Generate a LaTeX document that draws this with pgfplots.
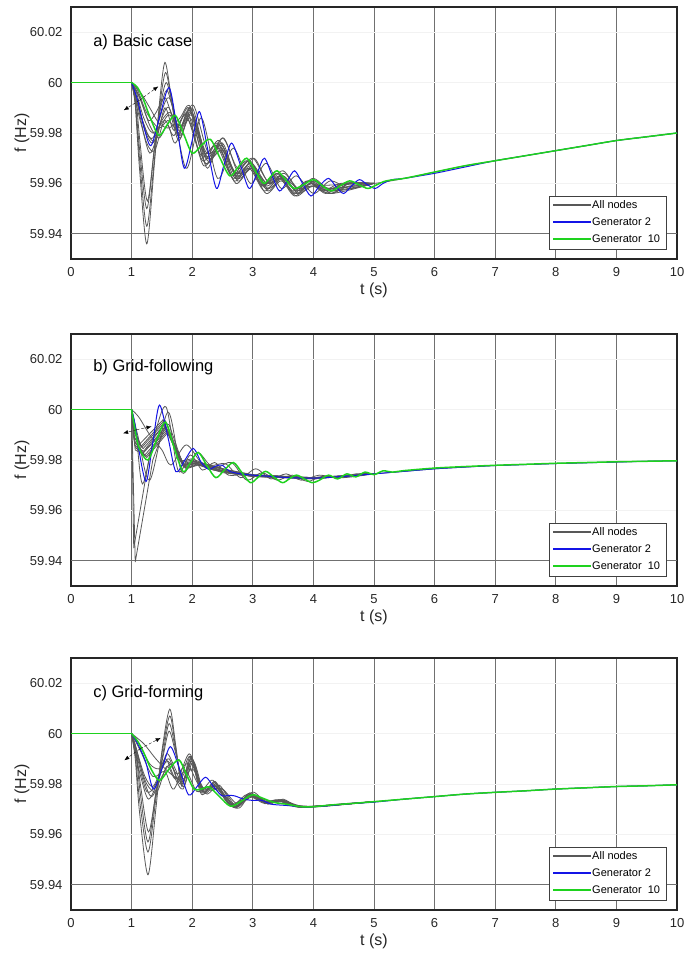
\documentclass[border=0pt]{standalone}
\usepackage{fontspec}
\setmainfont{Liberation Sans}
\usepackage{pgfplots}
\pgfplotsset{compat=1.18}
\usetikzlibrary{arrows.meta}
\definecolor{nodegray}{HTML}{585858}
\definecolor{genblue}{HTML}{1414E6}
\definecolor{gengreen}{HTML}{1ED21E}
\definecolor{gridgray}{HTML}{707070}

\pgfplotsset{
  panel/.style={
    scale only axis, width=606pt, height=252pt,
    xmin=0, xmax=10, ymin=59.93, ymax=60.03,
    xtick={0,1,2,3,4,5,6,7,8,9,10}, xticklabels={0,1,2,3,4,5,6,7,8,9,10},
    ytick={59.94,59.96,59.98,60,60.02}, yticklabels={59.94,59.96,59.98,60,60.02},
    major tick length=0pt,
    xmajorgrids, ymajorgrids,
    x grid style={gridgray, line width=0.9pt},
    y grid style={black!5, line width=0.8pt},
    axis line style={black!85, line width=1.2pt},
    tick label style={font=\fontsize{13}{15}\selectfont, text=black!85},
    xticklabel style={yshift=-5pt},
    yticklabel style={xshift=-5pt},
    label style={font=\fontsize{16}{18}\selectfont, text=black!85},
    xlabel={t (s)}, ylabel={f (Hz)},
    x label style={at={(axis description cs:0.5,-0.123)}, anchor=center},
    y label style={at={(axis description cs:-0.081,0.5)}, anchor=center},
  },
  allnodes/.style={nodegray, line width=0.8pt, smooth},
  allsharp/.style={nodegray, line width=0.8pt},
  gentwo/.style={genblue, line width=1pt, smooth},
  genten/.style={gengreen, line width=1.5pt, smooth},
}

% legend box in the lower right corner of each panel
\newcommand{\panellegend}{%
  \draw[black!75, line width=0.8pt, fill=white] (rel axis cs:0.7888,0.0377) rectangle (rel axis cs:0.9818,0.25);
  \draw[nodegray, line width=1.3pt] (rel axis cs:0.7954,0.2147) -- (rel axis cs:0.8576,0.2147);
  \draw[genblue, line width=2pt] (rel axis cs:0.7954,0.1478) -- (rel axis cs:0.8576,0.1478);
  \draw[gengreen, line width=2pt] (rel axis cs:0.7954,0.0790) -- (rel axis cs:0.8576,0.0790);
  \node[anchor=west, inner sep=0pt, font=\fontsize{11}{13}\selectfont] at (rel axis cs:0.8598,0.2147) {All nodes};
  \node[anchor=west, inner sep=0pt, font=\fontsize{11}{13}\selectfont] at (rel axis cs:0.8598,0.1478) {Generator 2};
  \node[anchor=west, inner sep=0pt, font=\fontsize{11}{13}\selectfont] at (rel axis cs:0.8598,0.0790) {Generator\ \ 10};
}

\begin{document}
\begin{tikzpicture}
\path[use as bounding box] (0pt,0pt) rectangle (699pt,-953pt);

% ---------------- a) Basic case
\begin{axis}[panel, at={(71pt,-7pt)}, anchor=north west]
\addplot[gridgray, line width=0.9pt] coordinates {(0,59.94)(10,59.94)};
\addplot[allnodes] coordinates {(1,60)(1.06,59.991)(1.13,59.966)(1.25,59.936)(1.37,59.966)(1.46,59.992)(1.55,60.008)(1.65,59.995)(1.76,59.979)(1.96,59.989)(2.21,59.968)(2.46,59.975)(2.71,59.962)(2.96,59.968)(3.21,59.958)(3.46,59.962)(3.71,59.956)(3.96,59.960)(4.21,59.957)(4.5,59.960)(5,59.960)(5.5,59.962)(6,59.9645)(6.5,59.967)(7,59.969)(7.5,59.971)(8,59.973)(8.5,59.975)(9,59.977)(9.5,59.9785)(10,59.980)};
\addplot[allnodes] coordinates {(1,60)(1.06,59.992)(1.13,59.970)(1.25,59.943)(1.37,59.968)(1.46,59.990)(1.56,60.004)(1.66,59.993)(1.77,59.980)(1.97,59.990)(2.22,59.970)(2.47,59.976)(2.72,59.963)(2.97,59.967)(3.22,59.959)(3.47,59.963)(3.72,59.957)(3.97,59.960)(4.25,59.957)(4.55,59.960)(5,59.960)};
\addplot[allnodes] coordinates {(1,60)(1.06,59.993)(1.13,59.974)(1.25,59.950)(1.37,59.972)(1.47,59.990)(1.57,60.000)(1.67,59.992)(1.78,59.981)(1.98,59.988)(2.23,59.971)(2.48,59.974)(2.73,59.964)(2.98,59.968)(3.23,59.960)(3.48,59.962)(3.73,59.957)(3.98,59.960)(4.3,59.958)(5,59.960)};
\addplot[allnodes] coordinates {(1,60)(1.07,59.994)(1.14,59.976)(1.26,59.953)(1.38,59.975)(1.48,59.990)(1.58,59.997)(1.68,59.990)(1.79,59.982)(1.99,59.987)(2.24,59.972)(2.49,59.975)(2.74,59.963)(2.99,59.966)(3.24,59.960)(3.49,59.963)(3.74,59.958)(3.99,59.959)(5,59.960)};
\addplot[allnodes] coordinates {(1,60)(1.1,59.991)(1.3,59.972)(1.5,59.986)(1.62,59.990)(1.8,59.978)(2,59.990)(2.25,59.969)(2.5,59.976)(2.75,59.961)(3,59.967)(3.25,59.957)(3.5,59.963)(3.75,59.956)(4,59.961)(4.3,59.956)(4.6,59.960)(5,59.960)};
\addplot[allnodes] coordinates {(1,60)(1.15,59.996)(1.3,59.990)(1.45,59.984)(1.62,59.982)(1.8,59.986)(1.95,59.991)(2.1,59.980)(2.25,59.966)(2.5,59.978)(2.75,59.966)(3,59.970)(3.25,59.961)(3.5,59.965)(3.75,59.958)(4,59.962)(4.3,59.957)(4.6,59.960)(5,59.960)};
\addplot[allnodes] coordinates {(1,60)(1.18,59.985)(1.35,59.978)(1.62,59.994)(1.9,59.966)(2.15,59.986)(2.42,59.962)(2.68,59.974)(2.96,59.960)(3.22,59.968)(3.47,59.958)(3.72,59.963)(4,59.956)(4.28,59.961)(4.6,59.958)(5,59.960)};
\addplot[allnodes] coordinates {(1,60)(1.12,59.990)(1.25,59.980)(1.4,59.977)(1.55,59.990)(1.7,59.981)(1.9,59.987)(2.15,59.971)(2.4,59.975)(2.65,59.963)(2.9,59.969)(3.15,59.959)(3.4,59.964)(3.65,59.957)(3.9,59.961)(4.15,59.957)(4.45,59.960)(5,59.960)};
\addplot[allnodes] coordinates {(1,60)(1.1,59.997)(1.25,59.988)(1.45,59.982)(1.6,59.985)(1.75,59.982)(1.95,59.990)(2.2,59.972)(2.45,59.977)(2.7,59.964)(2.95,59.969)(3.2,59.960)(3.45,59.963)(3.7,59.958)(3.95,59.961)(4.25,59.958)(5,59.960)};
\addplot[allnodes] coordinates {(1,60)(1.1,59.993)(1.22,59.981)(1.35,59.976)(1.5,59.985)(1.65,59.988)(1.8,59.979)(2,59.988)(2.25,59.970)(2.5,59.973)(2.75,59.962)(3,59.966)(3.25,59.958)(3.5,59.962)(3.75,59.956)(4,59.959)(4.3,59.957)(5,59.960)};
\addplot[allnodes] coordinates {(1,60)(1.08,59.996)(1.2,59.986)(1.35,59.980)(1.55,59.985)(1.7,59.979)(1.92,59.988)(2.17,59.969)(2.42,59.976)(2.67,59.962)(2.92,59.969)(3.17,59.959)(3.42,59.964)(3.67,59.956)(3.92,59.961)(4.2,59.956)(4.5,59.960)(5,59.960)};
\addplot[allnodes] coordinates {(1,60)(1.12,59.995)(1.3,59.983)(1.45,59.978)(1.6,59.983)(1.72,59.976)(1.94,59.985)(2.19,59.967)(2.44,59.974)(2.69,59.961)(2.94,59.966)(3.19,59.957)(3.44,59.962)(3.69,59.955)(3.94,59.960)(4.25,59.956)(4.6,59.959)(5,59.960)};
\addplot[allnodes] coordinates {(1,60)(1.15,59.993)(1.28,59.985)(1.4,59.988)(1.55,59.994)(1.68,59.986)(1.82,59.983)(2.02,59.991)(2.27,59.972)(2.52,59.978)(2.77,59.964)(3.02,59.970)(3.27,59.960)(3.52,59.964)(3.77,59.957)(4.02,59.961)(4.35,59.957)(5,59.960)};
\addplot[allnodes] coordinates {(1,60)(1.1,59.989)(1.25,59.976)(1.38,59.973)(1.52,59.984)(1.64,59.987)(1.78,59.977)(1.97,59.986)(2.22,59.968)(2.47,59.973)(2.72,59.960)(2.97,59.966)(3.22,59.956)(3.47,59.961)(3.72,59.955)(3.97,59.959)(4.3,59.956)(5,59.960)};
\addplot[gentwo] coordinates {(1,60)(1.1,59.993)(1.2,59.9826)(1.32,59.975)(1.47,59.987)(1.62,59.998)(1.75,59.982)(1.87,59.966)(2,59.977)(2.12,59.9885)(2.26,59.973)(2.4,59.958)(2.52,59.967)(2.65,59.976)(2.8,59.967)(2.94,59.958)(3.07,59.964)(3.19,59.970)(3.32,59.963)(3.44,59.957)(3.57,59.961)(3.69,59.965)(3.82,59.960)(3.96,59.955)(4.1,59.959)(4.25,59.962)(4.38,59.9585)(4.5,59.956)(4.63,59.959)(4.76,59.9615)(4.89,59.9595)(5.02,59.958)(5.15,59.960)(5.3,59.9615)(5.5,59.962)(6,59.964)(6.5,59.9665)(7,59.969)(7.5,59.971)(8,59.973)(8.5,59.975)(9,59.977)(9.5,59.9785)(10,59.980)};
\addplot[genten] coordinates {(1,60)(1.1,59.998)(1.2,59.993)(1.3,59.9865)(1.45,59.979)(1.58,59.983)(1.72,59.987)(1.86,59.9795)(2,59.972)(2.15,59.975)(2.3,59.9775)(2.46,59.970)(2.62,59.963)(2.76,59.9665)(2.9,59.970)(3.04,59.965)(3.18,59.960)(3.29,59.9625)(3.4,59.965)(3.54,59.9615)(3.68,59.958)(3.84,59.9595)(4,59.9615)(4.15,59.959)(4.3,59.957)(4.45,59.9592)(4.6,59.961)(4.75,59.9595)(4.9,59.958)(5.05,59.9595)(5.2,59.961)(5.5,59.962)(6,59.9645)(6.5,59.967)(7,59.969)(7.5,59.971)(8,59.973)(8.5,59.975)(9,59.977)(9.5,59.9785)(10,59.980)};
\addplot[gengreen, line width=1.5pt] coordinates {(0,60)(1,60)};
\panellegend
\draw[densely dashed, black, -{Latex[length=5pt,width=4pt]}] (axis cs:1.13,59.993) -- (axis cs:1.44,59.9985);
\draw[densely dashed, black, -{Latex[length=5pt,width=4pt]}] (axis cs:1.13,59.993) -- (axis cs:0.87,59.989);
\node[anchor=west, font=\fontsize{16.5}{18}\selectfont] at (rel axis cs:0.031,0.861) {a) Basic case};
\end{axis}

% ---------------- b) Grid-following
\begin{axis}[panel, at={(71pt,-334pt)}, anchor=north west]
\addplot[gridgray, line width=0.9pt] coordinates {(0,59.94)(10,59.94)};
\addplot[allsharp] coordinates {(1,60)(1.03,59.990)(1.15,59.984)(1.2,59.9835)(1.55,59.9945)(1.62,59.994)(1.85,59.978)(2,59.979)(2.15,59.978)(2.3,59.9765)(2.5,59.9755)(2.7,59.9745)(3,59.974)(3.5,59.9732)(4,59.9728)(4.5,59.9735)(5,59.9745)(5.5,59.9755)(6,59.9765)(6.5,59.9772)(7,59.9778)(7.5,59.9782)(8,59.9786)(8.5,59.9789)(9,59.9792)(9.5,59.9795)(10,59.9797)};
\addplot[allsharp] coordinates {(1,60)(1.04,59.988)(1.18,59.9825)(1.55,59.993)(1.85,59.9775)(2.05,59.979)(2.2,59.9775)(2.4,59.9765)(2.6,59.975)(3,59.9737)(4,59.9727)(5,59.9745)};
\addplot[allsharp] coordinates {(1,60)(1.05,59.986)(1.22,59.982)(1.58,59.992)(1.88,59.977)(2.1,59.9785)(2.3,59.977)(2.5,59.9755)(2.8,59.974)(3.3,59.9735)(4,59.9725)(5,59.9745)};
\addplot[allsharp] coordinates {(1,60)(1.03,59.992)(1.16,59.9855)(1.53,59.9955)(1.82,59.979)(2,59.980)(2.2,59.978)(2.4,59.9775)(2.6,59.9755)(3,59.974)(4,59.973)(5,59.9745)};
\addplot[allsharp] coordinates {(1,60)(1.06,59.985)(1.25,59.981)(1.6,59.991)(1.9,59.9765)(2.1,59.978)(2.35,59.976)(2.6,59.975)(3,59.9735)(4,59.9725)(5,59.9745)};
\addplot[allsharp] coordinates {(1,60)(1.04,59.991)(1.17,59.985)(1.56,59.9955)(1.84,59.9785)(2,59.9795)(2.2,59.9785)(2.4,59.977)(2.6,59.976)(3,59.974)(4,59.973)(5,59.9745)};
\addplot[allsharp] coordinates {(1,60)(1.05,59.987)(1.2,59.983)(1.57,59.9925)(1.87,59.9772)(2.05,59.9788)(2.25,59.977)(2.45,59.976)(2.7,59.9745)(3,59.9738)(4,59.9727)(5,59.9745)};
\addplot[allsharp] coordinates {(1,60)(1.04,59.989)(1.19,59.9845)(1.54,59.994)(1.86,59.9782)(2.05,59.9795)(2.25,59.978)(2.4,59.977)(2.6,59.9755)(3,59.974)(4,59.9729)(5,59.9745)};
\addplot[allsharp] coordinates {(1,60)(1.06,59.984)(1.24,59.9815)(1.59,59.9915)(1.89,59.9768)(2.1,59.9782)(2.3,59.9765)(2.5,59.975)(3,59.9735)(4,59.9726)(5,59.9745)};
\addplot[allsharp] coordinates {(1,60)(1.03,59.993)(1.14,59.9865)(1.52,59.996)(1.8,59.9795)(2,59.9805)(2.15,59.979)(2.35,59.9775)(2.6,59.976)(3,59.9742)(4,59.973)(5,59.9745)};
\addplot[allsharp] coordinates {(1,60)(1.06,59.9395)(1.35,59.980)(1.55,59.993)(1.85,59.978)(2.1,59.9785)(2.5,59.9755)(3,59.974)(4,59.9728)(5,59.9745)};
\addplot[allsharp] coordinates {(1,60)(1.035,59.945)(1.3,59.9825)(1.55,59.9935)(1.85,59.9778)(2.1,59.979)(2.5,59.9758)(3,59.974)(4,59.9728)(5,59.9745)};
\addplot[allnodes] coordinates {(1,60)(1.07,59.992)(1.18,59.9705)(1.38,59.990)(1.57,60.001)(1.77,59.9757)(1.97,59.982)(2.17,59.976)(2.37,59.979)(2.6,59.974)(2.85,59.9745)(3,59.9735)(4,59.9728)(5,59.9745)};
\addplot[allnodes] coordinates {(1,60)(1.1,59.990)(1.3,59.972)(1.6,59.999)(1.83,59.975)(2.08,59.983)(2.3,59.978)(2.55,59.9785)(2.8,59.973)(3.05,59.9765)(3.3,59.9725)(3.55,59.9745)(3.8,59.972)(4.1,59.974)(4.4,59.9728)(4.7,59.9745)(5,59.9745)};
\addplot[allnodes] coordinates {(1,60)(1.12,59.997)(1.3,59.990)(1.5,59.984)(1.65,59.978)(1.9,59.986)(2.15,59.979)(2.4,59.977)(2.65,59.979)(2.9,59.972)(3.15,59.975)(3.4,59.972)(3.65,59.974)(3.9,59.9715)(4.15,59.9735)(4.5,59.973)(5,59.9745)};
\addplot[gentwo] coordinates {(1,60)(1.05,59.995)(1.12,59.984)(1.24,59.9715)(1.35,59.987)(1.46,60.0018)(1.6,59.989)(1.73,59.9754)(1.88,59.980)(2.02,59.9846)(2.15,59.979)(2.27,59.9763)(2.38,59.9775)(2.49,59.978)(2.62,59.9755)(2.8,59.9745)(3,59.974)(3.3,59.9735)(3.6,59.973)(4,59.9728)(4.5,59.9735)(5,59.9745)(5.5,59.9755)(6,59.9765)(6.5,59.9772)(7,59.9778)(7.5,59.9782)(8,59.9786)(8.5,59.9789)(9,59.9792)(9.5,59.9795)(10,59.9797)};
\addplot[genten] coordinates {(1,60)(1.05,59.993)(1.12,59.985)(1.27,59.980)(1.42,59.9885)(1.56,59.995)(1.7,59.985)(1.85,59.9754)(1.97,59.979)(2.1,59.983)(2.25,59.9775)(2.39,59.973)(2.53,59.976)(2.68,59.979)(2.82,59.975)(2.96,59.971)(3.08,59.973)(3.21,59.9755)(3.35,59.9732)(3.49,59.971)(3.6,59.9725)(3.72,59.974)(3.85,59.9725)(3.98,59.971)(4.1,59.972)(4.25,59.974)(4.4,59.9725)(4.55,59.9745)(4.7,59.9733)(4.85,59.9752)(5,59.9742)(5.15,59.9757)(5.3,59.9752)(5.5,59.9758)(6,59.9768)(6.5,59.9774)(7,59.9779)(7.5,59.9783)(8,59.9787)(8.5,59.979)(9,59.9793)(9.5,59.9795)(10,59.9797)};
\addplot[gengreen, line width=1.5pt] coordinates {(0,60)(1,60)};
\panellegend
\draw[densely dashed, black, -{Latex[length=5pt,width=4pt]}] (axis cs:1.08,59.992) -- (axis cs:1.33,59.9933);
\draw[densely dashed, black, -{Latex[length=5pt,width=4pt]}] (axis cs:1.08,59.992) -- (axis cs:0.86,59.9906);
\node[anchor=west, font=\fontsize{16.5}{18}\selectfont] at (rel axis cs:0.031,0.868) {b) Grid-following};
\end{axis}

% ---------------- c) Grid-forming
\begin{axis}[panel, at={(71pt,-658pt)}, anchor=north west]
\addplot[gridgray, line width=0.9pt] coordinates {(0,59.94)(10,59.94)};
\addplot[allnodes] coordinates {(1,60)(1.06,59.990)(1.13,59.969)(1.27,59.944)(1.4,59.970)(1.5,59.993)(1.63,60.0097)(1.73,59.995)(1.83,59.979)(1.97,59.991)(2.15,59.976)(2.35,59.980)(2.55,59.974)(2.72,59.9705)(2.95,59.9765)(3.2,59.9725)(3.45,59.9733)(3.7,59.971)(4,59.971)(4.5,59.9722)(5,59.973)(5.5,59.974)(6,59.975)(6.5,59.976)(7,59.9767)(7.5,59.9773)(8,59.978)(8.5,59.9785)(9,59.979)(9.5,59.9793)(10,59.9797)};
\addplot[allnodes] coordinates {(1,60)(1.06,59.992)(1.13,59.974)(1.27,59.953)(1.4,59.974)(1.5,59.992)(1.63,60.007)(1.73,59.994)(1.84,59.980)(1.98,59.990)(2.16,59.9765)(2.36,59.9795)(2.56,59.9735)(2.73,59.971)(2.96,59.976)(3.22,59.9725)(3.47,59.9735)(3.72,59.9712)(4.05,59.971)(5,59.973)};
\addplot[allnodes] coordinates {(1,60)(1.07,59.993)(1.14,59.977)(1.27,59.957)(1.4,59.976)(1.51,59.991)(1.62,60.004)(1.73,59.993)(1.84,59.981)(1.99,59.9905)(2.17,59.977)(2.37,59.9805)(2.57,59.974)(2.74,59.9708)(2.97,59.9758)(3.23,59.9728)(3.48,59.9738)(3.73,59.9713)(4.1,59.971)(5,59.973)};
\addplot[allnodes] coordinates {(1,60)(1.07,59.994)(1.15,59.979)(1.28,59.961)(1.41,59.978)(1.52,59.991)(1.62,60.001)(1.73,59.992)(1.85,59.982)(2,59.989)(2.18,59.9775)(2.38,59.9805)(2.58,59.9742)(2.75,59.971)(2.98,59.9755)(3.24,59.973)(3.5,59.9735)(3.75,59.9712)(4.1,59.9712)(5,59.973)};
\addplot[allnodes] coordinates {(1,60)(1.1,59.990)(1.25,59.977)(1.4,59.980)(1.55,59.990)(1.7,59.983)(1.85,59.978)(2,59.990)(2.18,59.977)(2.38,59.981)(2.6,59.972)(2.8,59.9735)(3,59.976)(3.25,59.9725)(3.5,59.9735)(3.8,59.9712)(4.2,59.9715)(5,59.973)};
\addplot[allnodes] coordinates {(1,60)(1.2,59.996)(1.4,59.990)(1.6,59.985)(1.8,59.982)(1.98,59.988)(2.15,59.979)(2.3,59.978)(2.5,59.978)(2.75,59.972)(3,59.975)(3.3,59.973)(3.6,59.972)(4,59.9712)(5,59.973)};
\addplot[allnodes] coordinates {(1,60)(1.15,59.993)(1.35,59.983)(1.55,59.985)(1.7,59.978)(1.95,59.992)(2.12,59.980)(2.25,59.976)(2.45,59.9795)(2.7,59.971)(2.95,59.9755)(3.2,59.9725)(3.45,59.9732)(3.75,59.971)(4.2,59.9715)(5,59.973)};
\addplot[allnodes] coordinates {(1,60)(1.08,59.994)(1.2,59.982)(1.33,59.975)(1.5,59.983)(1.65,59.988)(1.8,59.980)(2,59.986)(2.2,59.978)(2.4,59.979)(2.65,59.9715)(2.9,59.9758)(3.15,59.973)(3.4,59.9735)(3.7,59.971)(4.1,59.9712)(5,59.973)};
\addplot[allnodes] coordinates {(1,60)(1.1,59.992)(1.22,59.983)(1.35,59.979)(1.5,59.986)(1.62,59.990)(1.78,59.981)(1.96,59.991)(2.14,59.978)(2.34,59.9815)(2.55,59.9735)(2.72,59.971)(2.94,59.9762)(3.18,59.9728)(3.42,59.9738)(3.7,59.9712)(4.1,59.9712)(5,59.973)};
\addplot[allnodes] coordinates {(1,60)(1.12,59.996)(1.3,59.988)(1.45,59.986)(1.6,59.989)(1.75,59.984)(1.92,59.988)(2.1,59.980)(2.3,59.9775)(2.5,59.978)(2.72,59.9715)(2.97,59.975)(3.22,59.9728)(3.5,59.9732)(3.8,59.971)(4.2,59.9715)(5,59.973)};
\addplot[allnodes] coordinates {(1,60)(1.05,59.993)(1.15,59.983)(1.28,59.974)(1.45,59.982)(1.58,59.992)(1.72,59.986)(1.86,59.979)(2.02,59.989)(2.2,59.9765)(2.4,59.980)(2.6,59.9725)(2.78,59.9705)(3,59.9768)(3.25,59.972)(3.5,59.974)(3.75,59.9708)(4.1,59.9712)(5,59.973)};
\addplot[allnodes] coordinates {(1,60)(1.1,59.991)(1.25,59.980)(1.42,59.977)(1.58,59.987)(1.72,59.982)(1.9,59.985)(2.08,59.977)(2.28,59.979)(2.48,59.9765)(2.7,59.9718)(2.93,59.9752)(3.2,59.9722)(3.45,59.9735)(3.72,59.971)(4.1,59.9712)(5,59.973)};
\addplot[gentwo] coordinates {(1,60)(1.1,59.996)(1.23,59.989)(1.36,59.978)(1.5,59.986)(1.64,59.9948)(1.79,59.986)(1.94,59.9757)(2.08,59.979)(2.22,59.9827)(2.35,59.979)(2.49,59.9753)(2.6,59.9755)(2.7,59.9753)(2.85,59.974)(3,59.9735)(3.15,59.9735)(3.3,59.972)(3.55,59.9715)(3.8,59.971)(4,59.971)(4.3,59.9715)(4.6,59.9722)(5,59.9728)(5.5,59.974)(6,59.975)(6.5,59.976)(7,59.9767)(7.5,59.9773)(8,59.978)(8.5,59.9785)(9,59.979)(9.5,59.9793)(10,59.9797)};
\addplot[genten] coordinates {(1,60)(1.1,59.997)(1.2,59.9925)(1.32,59.986)(1.46,59.9814)(1.62,59.986)(1.78,59.9896)(1.9,59.984)(2.03,59.978)(2.15,59.978)(2.28,59.9788)(2.45,59.975)(2.63,59.9712)(2.8,59.973)(2.99,59.9757)(3.15,59.9745)(3.35,59.9727)(3.55,59.972)(3.8,59.971)(4,59.971)(4.3,59.9717)(4.6,59.9722)(5,59.973)(5.5,59.974)(6,59.975)(6.5,59.976)(7,59.9767)(7.5,59.9773)(8,59.978)(8.5,59.9785)(9,59.979)(9.5,59.9793)(10,59.9797)};
\addplot[gengreen, line width=1.5pt] coordinates {(0,60)(1,60)};
\panellegend
\draw[densely dashed, black, -{Latex[length=5pt,width=4pt]}] (axis cs:1.14,59.994) -- (axis cs:1.48,59.9983);
\draw[densely dashed, black, -{Latex[length=5pt,width=4pt]}] (axis cs:1.14,59.994) -- (axis cs:0.88,59.9894);
\node[anchor=west, font=\fontsize{16.5}{18}\selectfont] at (rel axis cs:0.031,0.86) {c) Grid-forming};
\end{axis}
\end{tikzpicture}
\end{document}
